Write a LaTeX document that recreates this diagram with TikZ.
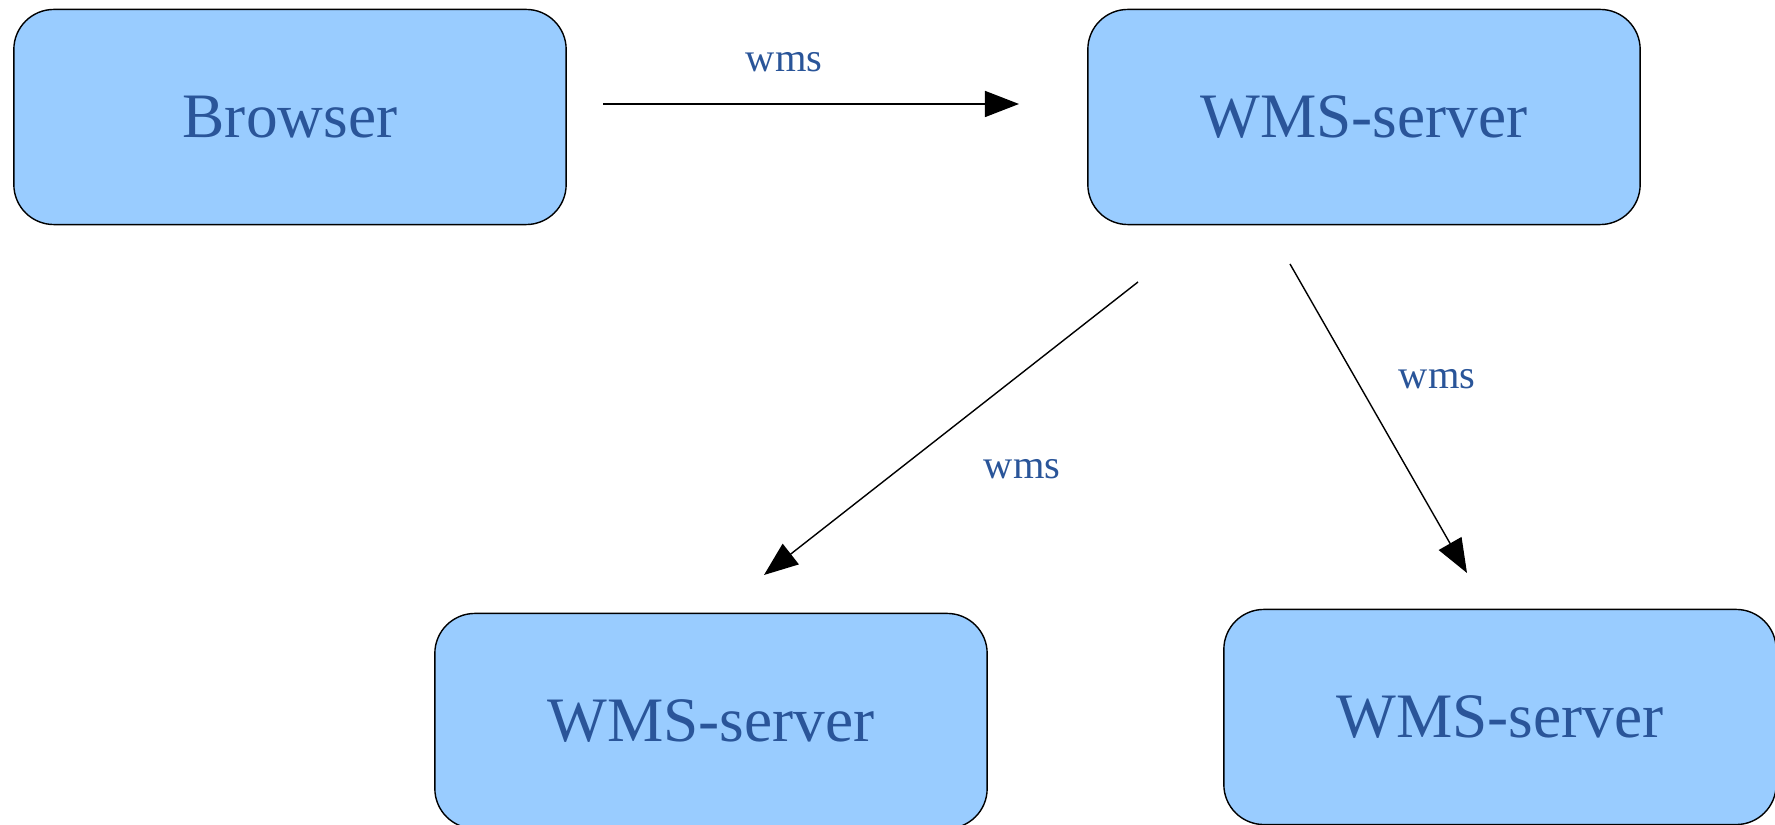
\documentclass[tikz,border=0pt]{standalone}
\usepackage{fontspec}
\setmainfont{Liberation Serif}
\usetikzlibrary{arrows.meta}
\definecolor{boxblue}{HTML}{99CCFF}
\definecolor{textblue}{HTML}{2A5599}
\tikzset{
    server/.style={draw=black, fill=boxblue, rounded corners=0.4cm, minimum width=5.52cm, minimum height=2.15cm, text=textblue, font=\fontsize{18}{20}\selectfont},
    wmslabel/.style={text=textblue, font=\fontsize{11.5}{13}\selectfont},
    link/.style={-{Triangle[length=3.4mm, width=2.6mm]}, thin}
}
\begin{document}
\begin{tikzpicture}[x=0.01cm, y=-0.01cm]
    \useasboundingbox (0, 0) rectangle (1775, 825);
    \node[server] (browser) at (290, 117) {Browser};
    \node[server] (server) at (1364, 117) {WMS-server};
    \node[server] (left) at (711, 721) {WMS-server};
    \node[server] (right) at (1500, 717) {WMS-server};
    
    % free ends of the arrows
    \coordinate (b out) at (603, 104);
    \coordinate (s in) at (1019, 104);
    \coordinate (s left) at (1138, 282);
    \coordinate (l in) at (764, 575);
    \coordinate (s right) at (1290, 264);
    \coordinate (r in) at (1467, 573);
    
    \draw[link] (b out) -- (s in);
    \draw[link] (s left) -- (l in);
    \draw[link] (s right) -- (r in);
    
    \node[wmslabel] (w1) at (784, 62) {wms};
    \node[wmslabel] (w2) at (1022, 469) {wms};
    \node[wmslabel] (w3) at (1437, 379) {wms};
\end{tikzpicture}
\end{document}
